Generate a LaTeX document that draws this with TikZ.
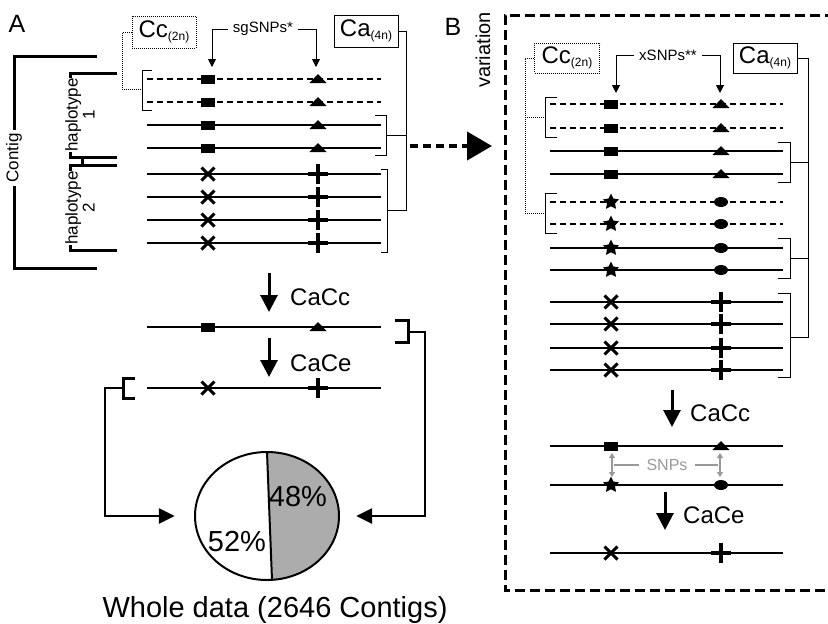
\documentclass[tikz,border=0pt]{standalone}
\usepackage{fontspec}
\setmainfont{Liberation Sans}
\usetikzlibrary{arrows.meta,positioning,shapes.geometric}

\newcommand{\fs}[1]{\fontsize{#1}{#1}\selectfont}
\newcommand{\ploidy}[2]{#1\raisebox{-3pt}{\fs{12}(#2)}}

% markers on the sequence lines
\tikzset{
  sq/.pic={\fill (-7,-4.5) rectangle (7,4.5);},
  tri/.pic={\fill (-8.5,4) -- (8.5,4) -- (0,-5) -- cycle;},
  xx/.pic={\draw[line width=3pt] (-6.5,-6.5) -- (6.5,6.5) (-6.5,6.5) -- (6.5,-6.5);},
  pl/.pic={\draw[line width=3.5pt] (0,-10) -- (0,10) (-10,0) -- (10,0);},
  st/.pic={\node[star, star points=5, star point ratio=2, fill, minimum size=17pt, inner sep=0pt] {};},
  ov/.pic={\fill (0,0) ellipse[x radius=7, y radius=5];},
}

\begin{document}
\begin{tikzpicture}[x=1pt, y=-1pt,
    every node/.style={inner sep=0pt},
    seq/.style={line width=1.3pt},
    dseq/.style={seq, dash pattern=on 6pt off 4pt},
    thin/.style={line width=1pt},
    fat/.style={line width=3pt},
    box/.style={draw, thin, minimum width=64pt, minimum height=32pt, font=\fs{24}},
    tip/.style={thin, -{Triangle[length=8pt, width=8pt]}},
    flow/.style={line width=3pt, -{Triangle[length=17pt, width=17pt]}},
    link/.style={line width=2.5pt, -{Triangle[length=16pt, width=15pt]}},
    snp/.style={gray!80, line width=1.5pt},
    lbl/.style={font=\fs{15}, inner sep=5pt},
    big/.style={font=\fs{24}, anchor=west},
  ]
  \useasboundingbox (0,0) rectangle (828,624);

  % panel A
  \node[font=\fs{25}] (labA) at (17,24) {A};
  \node (ccA) [box, densely dotted] at (164,32) {\ploidy{Cc}{2n}};
  \node (caA) [box] at (366,31) {\ploidy{Ca}{4n}};
  \node (sgA) [lbl] at (263,29) {sgSNPs*};
  \draw[tip] (sgA.west) -| (212,67);
  \draw[tip] (sgA.east) -| (316,67);

  \foreach \y in {79,102} \draw[dseq] (147,\y) -- (381,\y);
  \foreach \y in {125,148,174,197,220,243,327,388} \draw[seq] (147,\y) -- (381,\y);
  \foreach \y in {79,102,125,148,327} {\pic at (208,\y) {sq}; \pic at (318,\y) {tri};}
  \foreach \y in {174,197,220,243,388} {\pic at (208,\y) {xx}; \pic at (318,\y) {pl};}

  \draw[thin] (152,70) -| (142,110) -- (152,110);
  \draw[thin, densely dotted] (ccA.west) -| (122,89) -- (142,89);
  \draw[thin] (375,115) -| (386,155) -- (375,155);
  \draw[thin] (381,169) -| (387,252) -- (381,252);
  \draw[thin] (caA.east) -| (406,210) -- (387,210);
  \draw[thin] (406,135) -- (386,135);

  \draw[fat] (97,56) -| (14,268) -- (97,268);
  \node[rotate=90, fill=white, inner sep=3pt, font=\fs{17}] (contig) at (14,158) {Contig};
  \draw[fat] (117,73) -| (70,157) -- (117,157);
  \draw[fat] (117,165) -| (70,250) -- (117,250);
  \draw[fat] (82,157) -- (82,165);
  \node[rotate=90, fill=white, align=center, font=\fs{17}] (hapA) at (80,115) {haplotype\\1};
  \node[rotate=90, fill=white, align=center, font=\fs{17}] (hapB) at (80,208) {haplotype\\2};

  \coordinate (fromA) at (410,146);
  \coordinate (toB) at (492,146);
  \draw[line width=4pt, dash pattern=on 8pt off 5pt, -{Triangle[length=25pt, width=28pt]}] (fromA) -- (toB);

  \draw[flow] (269,273) -- (269,312);
  \node[big] (cacA) at (290,297) {CaCc};
  \draw[flow] (269,338) -- (269,377);
  \node[big] (ceA) at (290,363) {CaCe};
  \draw[fat] (395,320) -| (408,342) -- (395,342);
  \draw[fat] (135,378) -| (123,398) -- (135,398);

  \node[ellipse, minimum width=144pt, minimum height=128pt] (pie) at (267,516) {};
  \fill[gray!65] (267,452) arc[start angle=-90, end angle=86, x radius=72, y radius=64] -- cycle;
  \draw[line width=2pt] (pie.center) ellipse[x radius=72, y radius=64];
  \draw[line width=2pt] (267,452) -- (272,580);
  \node[font=\fs{29}] (big48) at (298,497) {48\%};
  \node[font=\fs{29}] (big52) at (237,542) {52\%};
  \draw[link] (408,332) -- (425,332) |- ([xshift=17pt]pie.east);
  \draw[link] (123,388) -- (105,388) |- ([xshift=-20pt]pie.west);
  \node[font=\fs{29}] (whole) at (275,610) {Whole data (2646 Contigs)};

  % panel B
  \node[font=\fs{25}] (labB) at (453,27) {B};
  \node[rotate=90, font=\fs{20}] (varB) at (483,50) {variation};
  \draw[line width=3pt, dash pattern=on 10pt off 5pt] (835,15) -| (505,590) -- (835,590);
  \node (ccB) [box, densely dotted, minimum width=65pt, minimum height=30pt] at (567,58) {\ploidy{Cc}{2n}};
  \node (caB) [box, minimum height=30pt] at (765,58) {\ploidy{Ca}{4n}};
  \node (xsB) [lbl] at (668,55) {xSNPs**};
  \draw[tip] (xsB.west) -| (616,93);
  \draw[tip] (xsB.east) -| (720,93);

  \foreach \y in {104,128,202,224} \draw[dseq] (550,\y) -- (783,\y);
  \foreach \y in {151,174,248,270,302,324,348,370,446,485,553} \draw[seq] (550,\y) -- (783,\y);
  \foreach \y in {104,128,151,174,446} {\pic at (611,\y) {sq}; \pic at (721,\y) {tri};}
  \foreach \y in {202,224,248,270,485} {\pic at (611,\y) {st}; \pic at (721,\y) {ov};}
  \foreach \y in {302,324,348,370,553} {\pic at (611,\y) {xx}; \pic at (721,\y) {pl};}

  \draw[thin] (557,97) -| (545,137) -- (557,137);
  \draw[thin] (557,193) -| (545,233) -- (557,233);
  \draw[thin, densely dotted] (ccB.west) -| (525,213) -- (545,213);
  \draw[thin, densely dotted] (525,117) -- (545,117);
  \draw[thin] (778,142) -| (790,182) -- (778,182);
  \draw[thin] (778,238) -| (790,278) -- (778,278);
  \draw[thin] (778,293) -| (790,377) -- (778,377);
  \draw[thin] (caB.east) -| (808,337) -- (790,337);
  \draw[thin] (808,162) -- (790,162);
  \draw[thin] (808,258) -- (790,258);

  \draw[flow] (672,390) -- (672,427);
  \node[big] (cacB) at (690,413) {CaCc};
  \node[font=\fs{16}, text=gray!80] (snpB) at (667,465) {SNPs};
  \draw[snp, {Triangle[length=5pt, width=6pt]}-{Triangle[length=5pt, width=6pt]}] (612,453) -- (612,477);
  \draw[snp, {Triangle[length=5pt, width=6pt]}-{Triangle[length=5pt, width=6pt]}] (720,453) -- (720,477);
  \draw[snp] ([xshift=-7pt]snpB.west) -- (614,465);
  \draw[snp] ([xshift=7pt]snpB.east) -- (718,465);
  \draw[flow] (665,492) -- (665,530);
  \node[big] (ceB) at (683,515) {CaCe};
\end{tikzpicture}
\end{document}
